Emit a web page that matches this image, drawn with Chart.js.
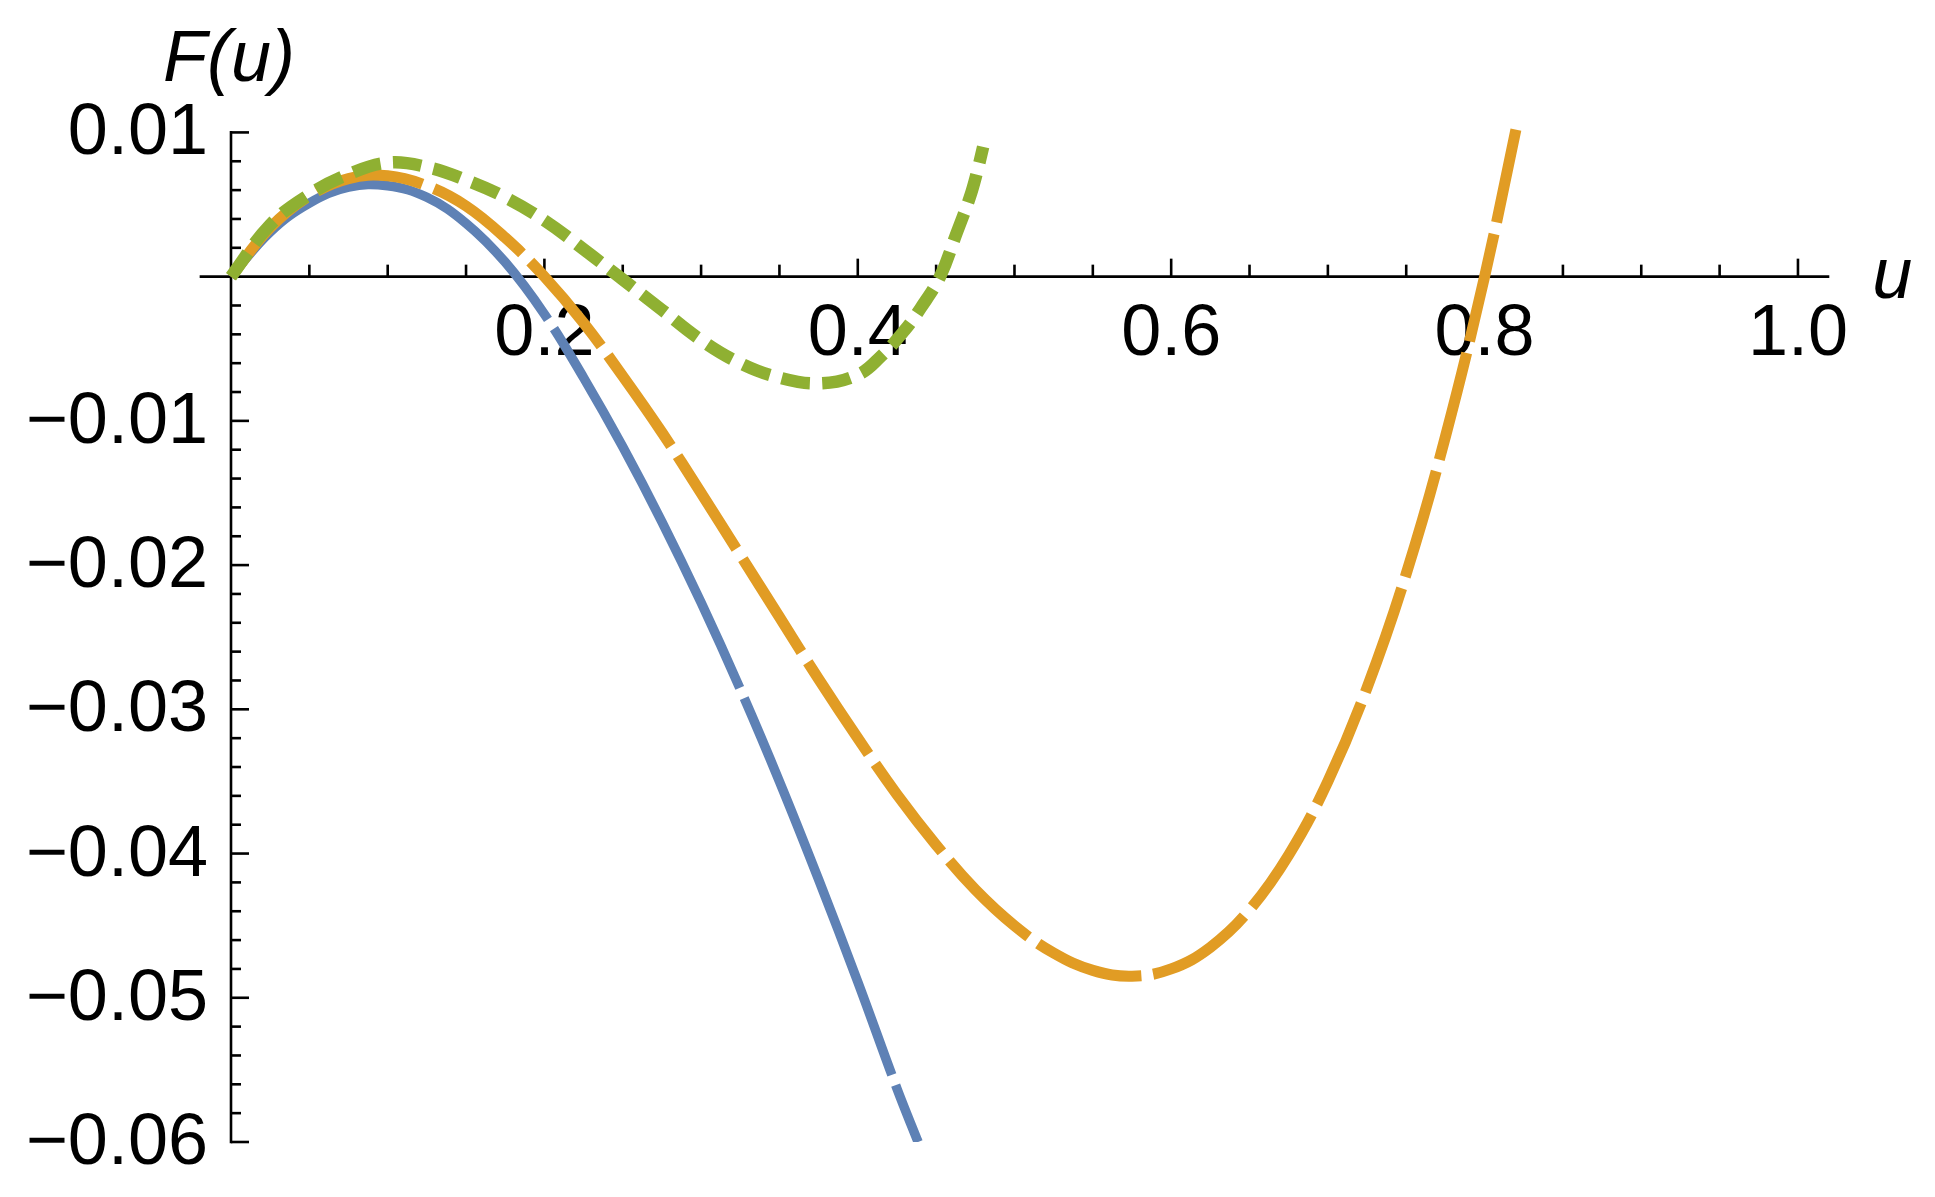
<!DOCTYPE html>
<html>
<head>
<meta charset="utf-8">
<title>F(u)</title>
<script src="https://cdn.jsdelivr.net/npm/chart.js@4.4.1/dist/chart.umd.min.js"></script>
<style>
  html, body { margin: 0; padding: 0; background: #fff; }
  #wrap { width: 1935px; height: 1197px; position: relative; }
</style>
</head>
<body>
<div id="wrap"><canvas id="myChart"></canvas></div>
<script>
'use strict';

//data

//blue, solid-looking long dashes
const blueU = [0, 0.025, 0.05, 0.075, 0.1, 0.125, 0.15, 0.175, 0.2, 0.225, 0.25, 0.275, 0.3, 0.325, 0.35, 0.375, 0.4, 0.425, 0.4385];
const blueF = [0, 0.0031, 0.0051, 0.0062, 0.0063, 0.0055, 0.0037, 0.0010, -0.0026, -0.0070, -0.0118, -0.0170, -0.0226, -0.0286, -0.0350, -0.0418, -0.0489, -0.0563, -0.0600];

//orange, medium dashes
const orangeU = [0, 0.025, 0.05, 0.075, 0.1, 0.125, 0.15, 0.175, 0.2, 0.225, 0.25, 0.275, 0.3, 0.325, 0.35, 0.375, 0.4, 0.425, 0.45, 0.475, 0.5, 0.525, 0.55, 0.575, 0.6, 0.625, 0.65, 0.675, 0.7, 0.725, 0.75, 0.775, 0.8, 0.82];
const orangeF = [0, 0.0034, 0.0056, 0.0068, 0.0070, 0.0063, 0.0049, 0.0027, 0, -0.0032, -0.0069, -0.0108, -0.0150, -0.0193, -0.0236, -0.0279, -0.0320, -0.0359, -0.0394, -0.0425, -0.0450, -0.0469, -0.0481, -0.0485, -0.0480, -0.0465, -0.0439, -0.0401, -0.0350, -0.0285, -0.0206, -0.0111, 0, 0.0102];

//green, short dashes
const greenU = [0, 0.025, 0.05, 0.075, 0.1, 0.125, 0.15, 0.175, 0.2, 0.225, 0.25, 0.275, 0.3, 0.325, 0.35, 0.375, 0.4, 0.415, 0.43, 0.44, 0.4525, 0.463, 0.4715, 0.476, 0.48];
const greenF = [0, 0.0036, 0.0057, 0.0071, 0.0079, 0.0076, 0.0067, 0.0055, 0.0039, 0.0019, -0.0002, -0.0023, -0.0044, -0.0060, -0.0070, -0.0074, -0.0068, -0.0055, -0.0037, -0.0022, 0, 0.0030, 0.0055, 0.0072, 0.0090];

//ticks
const xMajor = [0.2, 0.4, 0.6, 0.8, 1.0];
const xLabels = ['0.2', '0.4', '0.6', '0.8', '1.0'];
const xMinor = [0.05, 0.1, 0.15, 0.25, 0.3, 0.35, 0.45, 0.5, 0.55, 0.65, 0.7, 0.75, 0.85, 0.9, 0.95];
const yMajor = [0.01, -0.01, -0.02, -0.03, -0.04, -0.05, -0.06];
const yLabels = ['0.01', '\u22120.01', '\u22120.02', '\u22120.03', '\u22120.04', '\u22120.05', '\u22120.06'];

//helpers

function points(us, fs) {
  const out = [];
  for(let i = 0; i < us.length; i++) {
    out.push({x: us[i], y: fs[i]});
  }
  return out;
}

//minor y ticks every 0.002, skipping the labelled ones and zero
function yMinorTicks() {
  const out = [];
  for(let k = -30; k <= 5; k++) {
    if(k % 5 === 0) {
      continue;
    }
    out.push(k * 0.002);
  }
  return out;
}

function line(ctx, x1, y1, x2, y2) {
  ctx.beginPath();
  ctx.moveTo(x1, y1);
  ctx.lineTo(x2, y2);
  ctx.stroke();
}

const font = '"Liberation Sans", Arial, sans-serif';

//axes through the origin, ticks inside, Mathematica style
const axesPlugin = {
  id: 'axes',
  beforeDatasetsDraw(chart) {
    const ctx = chart.ctx;
    const xs = chart.scales.x;
    const ys = chart.scales.y;
    const area = chart.chartArea;
    const x0 = xs.getPixelForValue(0);
    const y0 = ys.getPixelForValue(0);
    const yTop = ys.getPixelForValue(0.01);
    const yBottom = ys.getPixelForValue(-0.06);

    ctx.save();
    ctx.strokeStyle = '#000';
    ctx.fillStyle = '#000';
    ctx.lineWidth = 2.6;
    ctx.lineCap = 'butt';

    line(ctx, area.left, y0, area.right, y0);
    line(ctx, x0, yTop - 1.3, x0, yBottom + 1.3);

    for(const v of xMinor) {
      const px = xs.getPixelForValue(v);
      line(ctx, px, y0, px, y0 - 12);
    }
    for(const v of xMajor) {
      const px = xs.getPixelForValue(v);
      line(ctx, px, y0, px, y0 - 18);
    }
    for(const v of yMinorTicks()) {
      const py = ys.getPixelForValue(v);
      line(ctx, x0, py, x0 + 10, py);
    }
    for(const v of yMajor) {
      const py = ys.getPixelForValue(v);
      line(ctx, x0, py, x0 + 18, py);
    }

    ctx.font = '72px ' + font;
    ctx.textBaseline = 'alphabetic';
    ctx.textAlign = 'center';
    for(let i = 0; i < xMajor.length; i++) {
      ctx.fillText(xLabels[i], xs.getPixelForValue(xMajor[i]), y0 + 78);
    }
    ctx.textAlign = 'right';
    for(let i = 0; i < yMajor.length; i++) {
      ctx.fillText(yLabels[i], x0 - 23, ys.getPixelForValue(yMajor[i]) + 22);
    }

    ctx.font = 'italic 72px ' + font;
    ctx.textAlign = 'left';
    ctx.fillText('F(u)', x0 - 68, yTop - 51);
    ctx.fillText('u', area.right + 43, y0 + 21);
    ctx.restore();
  }
};

//main

const data = {
  datasets: [{
    label: 'green',
    data: points(greenU, greenF),
    borderColor: '#8FB032',
    borderWidth: 12.5,
    borderDash: [29, 12]
  }, {
    label: 'orange',
    data: points(orangeU, orangeF),
    borderColor: '#E19C24',
    borderWidth: 11,
    borderDash: [110, 12]
  }, {
    label: 'blue',
    data: points(blueU, blueF),
    borderColor: '#5E81B5',
    borderWidth: 9.5,
    borderDash: [405, 11]
  }]
};

for(const ds of data.datasets) {
  ds.showLine = true;
  ds.pointRadius = 0;
  ds.borderCapStyle = 'butt';
  ds.tension = 0.4;
  ds.fill = false;
}

const config = {
  type: 'scatter',
  data: data,
  options: {
    responsive: true,
    maintainAspectRatio: false,
    animation: false,
    events: [],
    layout: {
      padding: {left: 199.66, right: 105.7, top: 118, bottom: 55}
    },
    plugins: {
      legend: {display: false},
      tooltip: {enabled: false}
    },
    scales: {
      x: {type: 'linear', min: -0.02, max: 1.02, display: false},
      y: {type: 'linear', min: -0.06, max: 0.011, display: false}
    }
  },
  plugins: [axesPlugin]
};

let myChart = new Chart(document.getElementById('myChart'), config);
</script>
</body>
</html>
